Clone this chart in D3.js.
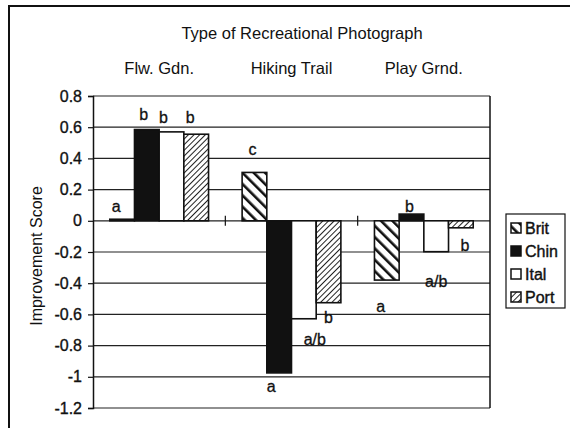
<!DOCTYPE html>
<html><head><meta charset="utf-8">
<script src="https://cdn.jsdelivr.net/npm/d3@7"></script>
<style>
html,body{margin:0;padding:0;background:#fff;}
svg{display:block;font-family:"Liberation Sans",Arial,sans-serif;}
</style></head>
<body>
<script>
// ---- data ----
const categories = ["Flw. Gdn.", "Hiking Trail", "Play Grnd."];
const seriesNames = ["Brit", "Chin", "Ital", "Port"];
const brit = [0.01, 0.31, -0.38];
const chin = [0.585, -0.975, 0.043];
const ital = [0.57, -0.628, -0.198];
const port = [0.555, -0.525, -0.045];
const yTicks = [0.8, 0.6, 0.4, 0.2, 0, -0.2, -0.4, -0.6, -0.8, -1, -1.2];
const yTickLabels = ["0.8", "0.6", "0.4", "0.2", "0", "-0.2", "-0.4", "-0.6", "-0.8", "-1", "-1.2"];
// significance letters: category index, series, text, y-position in score units
const letterCat = [0, 0, 0, 0, 1, 1, 1, 1, 2, 2, 2, 2];
const letterSer = ["Brit", "Chin", "Ital", "Port", "Brit", "Chin", "Ital", "Port", "Brit", "Chin", "Ital", "Port"];
const letterText = ["a", "b", "b", "b", "c", "a", "a/b", "b", "a", "b", "a/b", "b"];
const letterY = [0.094, 0.68, 0.66, 0.66, 0.46, -1.06, -0.76, -0.62, -0.55, 0.094, -0.39, -0.155];
const title = "Type of Recreational Photograph";
const yTitle = "Improvement Score";

// ---- layout ----
const W = 570, H = 428;
const svg = d3.select("body").append("svg").attr("width", W).attr("height", H);
const defs = svg.append("defs");

const pB = defs.append("pattern").attr("id", "pBrit").attr("patternUnits", "userSpaceOnUse")
  .attr("width", 8).attr("height", 8).attr("patternTransform", "rotate(-45)");
pB.append("rect").attr("width", 8).attr("height", 8).attr("fill", "#fff");
pB.append("rect").attr("x", 0).attr("y", 0).attr("width", 2.6).attr("height", 8).attr("fill", "#111");

const pP = defs.append("pattern").attr("id", "pPort").attr("patternUnits", "userSpaceOnUse")
  .attr("width", 4).attr("height", 4).attr("patternTransform", "rotate(45)");
pP.append("rect").attr("width", 4).attr("height", 4).attr("fill", "#fff");
pP.append("rect").attr("x", 0).attr("y", 0).attr("width", 1).attr("height", 4).attr("fill", "#222");

const fills = {Brit: "url(#pBrit)", Chin: "#111", Ital: "#fff", Port: "url(#pPort)"};
const values = {Brit: brit, Chin: chin, Ital: ital, Port: port};
const ink = "#111";

// outer frame
svg.append("rect").attr("x", 9).attr("y", 6).attr("width", 570).attr("height", 440)
  .attr("fill", "none").attr("stroke", ink).attr("stroke-width", 2);

const x0 = d3.scaleBand().domain(categories).range([93, 490]).paddingInner(0).paddingOuter(0);
const x1 = d3.scaleBand().domain(seriesNames).range([0, x0.bandwidth()]).paddingInner(0).paddingOuter(0.68);
const y = d3.scaleLinear().domain([-1.2, 0.8]).range([408, 96]);

// gridlines
svg.append("g").selectAll("line").data(yTicks).join("line")
  .attr("x1", 93).attr("x2", 490).attr("y1", d => y(d)).attr("y2", d => y(d))
  .attr("stroke", "#222").attr("stroke-width", 1.2);

// left axis
const yAxis = d3.axisLeft(y).tickValues(yTicks).tickSize(5).tickPadding(6)
  .tickFormat((d, i) => yTickLabels[i]);
const gy = svg.append("g").attr("transform", "translate(93,0)").call(yAxis);
gy.select(".domain").attr("stroke", ink).attr("stroke-width", 1.5);
gy.selectAll(".tick line").attr("stroke", ink).attr("stroke-width", 1.2);
gy.selectAll(".tick text").attr("font-size", 16).attr("fill", ink)
  .attr("stroke", ink).attr("stroke-width", 0.35)
  .attr("font-family", "Liberation Sans, Arial, sans-serif");

// right border
svg.append("line").attr("x1", 490).attr("x2", 490).attr("y1", y(0.8)).attr("y2", y(-1.2))
  .attr("stroke", ink).attr("stroke-width", 1.5);

// bars
const rows = [];
categories.forEach((c, i) => seriesNames.forEach(s => rows.push({c, s, v: values[s][i]})));
svg.append("g").selectAll("rect").data(rows).join("rect")
  .attr("x", d => x0(d.c) + x1(d.s))
  .attr("width", x1.bandwidth())
  .attr("y", d => y(Math.max(0, d.v)))
  .attr("height", d => Math.abs(y(d.v) - y(0)))
  .attr("fill", d => fills[d.s])
  .attr("stroke", ink).attr("stroke-width", 1.6);

// category separator ticks on zero line
svg.append("g").selectAll("line").data(categories.slice(1)).join("line")
  .attr("x1", d => x0(d)).attr("x2", d => x0(d))
  .attr("y1", y(0) - 5).attr("y2", y(0) + 5)
  .attr("stroke", ink).attr("stroke-width", 1.2);

// letters
const nudge = [-6, -3, -8, -6, -2, -8, 11, 0, -6, -2, 0, 4];
svg.append("g").selectAll("text").data(letterText).join("text")
  .attr("x", (d, i) => x0(categories[letterCat[i]]) + x1(letterSer[i]) + x1.bandwidth() / 2 + nudge[i])
  .attr("y", (d, i) => y(letterY[i]))
  .attr("dy", "0.35em")
  .attr("text-anchor", "middle").attr("font-size", 16).attr("fill", ink)
  .attr("stroke", ink).attr("stroke-width", 0.3)
  .text(d => d);

// title & category headers
svg.append("text").attr("x", 302).attr("y", 39).attr("text-anchor", "middle")
  .attr("font-size", 16.5).attr("fill", ink).text(title);
svg.append("g").selectAll("text").data(categories).join("text")
  .attr("x", d => x0(d) + x0.bandwidth() / 2).attr("y", 74)
  .attr("text-anchor", "middle").attr("font-size", 16.5).attr("fill", ink).text(d => d);

// y title
svg.append("text").attr("transform", "translate(42,256) rotate(-90)")
  .attr("text-anchor", "middle").attr("font-size", 16).attr("fill", ink).text(yTitle);

// legend
const lg = svg.append("g").attr("transform", "translate(506,214)");
lg.append("rect").attr("width", 59).attr("height", 94).attr("fill", "#fff")
  .attr("stroke", ink).attr("stroke-width", 1.2);
const li = lg.selectAll("g").data(seriesNames).join("g")
  .attr("transform", (d, i) => `translate(5,${14 + i * 23})`);
li.append("rect").attr("x", 0).attr("y", -5).attr("width", 10).attr("height", 10)
  .attr("fill", d => fills[d]).attr("stroke", ink).attr("stroke-width", 1.5);
li.append("text").attr("x", 14).attr("dy", "0.36em").attr("font-size", 16)
  .attr("fill", ink).attr("stroke", ink).attr("stroke-width", 0.4).text(d => d);
</script>
</body></html>
